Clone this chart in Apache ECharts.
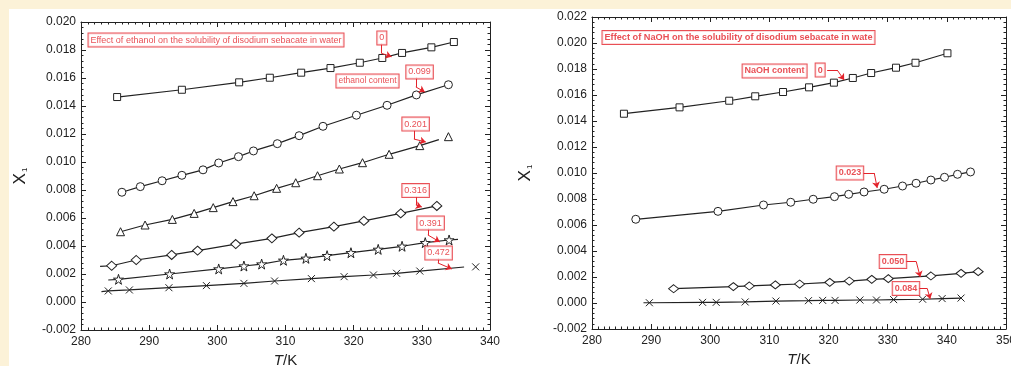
<!DOCTYPE html>
<html><head><meta charset="utf-8">
<script src="https://cdn.jsdelivr.net/npm/echarts@6/dist/echarts.min.js"></script>
<style>html,body{margin:0;padding:0;background:#FCF2D8;}#c{width:1011px;height:366px;}</style>
</head><body><div id="c"></div>
<script>
// ---------- Left panel: ethanol ----------
const ethT_0 = [285.3, 294.8, 303.2, 307.7, 312.3, 316.6, 320.9, 324.2, 327.1, 331.4, 334.7];
const ethX_0 = [0.01464, 0.01516, 0.01569, 0.01602, 0.01638, 0.01671, 0.01709, 0.01743, 0.01779, 0.01819, 0.01857];
const ethT_099 = [286.0, 288.7, 291.9, 294.8, 297.9, 300.2, 303.1, 305.3, 308.8, 312.0, 315.5, 320.4, 324.9, 329.2, 333.9];
const ethX_099 = [0.00784, 0.00824, 0.00866, 0.00905, 0.00944, 0.00993, 0.01038, 0.01079, 0.01131, 0.01188, 0.01255, 0.01334, 0.01405, 0.01479, 0.01552];
const ethT_201 = [285.8, 289.4, 293.4, 296.6, 299.4, 302.3, 305.4, 308.7, 311.5, 314.7, 317.9, 321.3, 325.2, 329.7, 333.9];
const ethX_201 = [0.00502, 0.0055, 0.0059, 0.00633, 0.00674, 0.00717, 0.00759, 0.00812, 0.00852, 0.00902, 0.0095, 0.00995, 0.01055, 0.01117, 0.01181];
const ethT_316 = [284.5, 288.1, 293.3, 297.1, 302.7, 308.0, 312.0, 317.1, 321.5, 326.9, 332.2];
const ethX_316 = [0.00259, 0.003, 0.00336, 0.00367, 0.00414, 0.00455, 0.00495, 0.00538, 0.00579, 0.00633, 0.00686];
const ethT_391 = [285.5, 293.0, 300.2, 303.9, 306.5, 309.7, 313.0, 316.1, 319.6, 323.6, 327.1, 330.5, 334.0];
const ethX_391 = [0.00162, 0.002, 0.00236, 0.00257, 0.00271, 0.00298, 0.00312, 0.00331, 0.00352, 0.00376, 0.00398, 0.00424, 0.00443];
const ethT_472 = [284.0, 287.1, 292.9, 298.4, 303.9, 308.4, 313.8, 318.6, 322.9, 326.3, 329.7, 337.9];
const ethX_472 = [0.00079, 0.00086, 0.00102, 0.00117, 0.00133, 0.0015, 0.00167, 0.00181, 0.00193, 0.00205, 0.00221, 0.00251];
// fitted-line extents [T, X] (null = none); number of points the fit passes through
const ethFitStart = [null, null, null, [282.8, 0.00255], [284.0, 0.00157], [283.0, 0.00074]];
const ethFitEnd   = [null, null, [332.5, 0.0116], null, [335.3, 0.00448], [336.2, 0.0025]];
const ethFitCount = [11, 15, 14, 11, 13, 11];
// annotations
const ethLabels = ['Effect of ethanol on the solubility of disodium sebacate in water', '0', 'ethanol content', '0.099', '0.201', '0.316', '0.391', '0.472'];
const ethLabelT = [281.03, 323.4, 317.4, 327.65, 327.07, 327.07, 329.27, 330.44];
const ethLabelX = [0.01871, 0.01886, 0.01579, 0.01643, 0.01271, 0.00796, 0.00564, 0.0035];
const ethArrows = [
  [[324.09, 0.01848], [324.09, 0.01776], [325.56, 0.01752]],
  [[329.12, 0.01607], [329.12, 0.01536], [330.44, 0.0150]],
  [[328.83, 0.01229], [328.83, 0.01164], [330.59, 0.01143]],
  [[329.12, 0.00757], [329.12, 0.00693], [330.0, 0.00679]],
  [[330.88, 0.00529], [330.88, 0.00479], [332.64, 0.00429]],
  [[332.35, 0.00314], [332.35, 0.00279], [334.4, 0.00236]]
];

// ---------- Right panel: NaOH ----------
const naT_0 = [285.4, 294.8, 303.2, 307.6, 312.3, 316.7, 320.9, 324.1, 327.2, 331.4, 334.7, 340.1];
const naX_0 = [0.01456, 0.01505, 0.01556, 0.0159, 0.01623, 0.01659, 0.01695, 0.01731, 0.01769, 0.0181, 0.01848, 0.01921];
const naT_023 = [287.4, 301.3, 309.0, 313.6, 317.4, 321.0, 323.4, 326.0, 329.4, 332.5, 334.8, 337.3, 339.6, 341.8, 344.0];
const naX_023 = [0.00644, 0.00705, 0.00754, 0.00775, 0.00798, 0.00818, 0.00836, 0.00854, 0.00875, 0.009, 0.00921, 0.00946, 0.00967, 0.0099, 0.01008];
const naT_050 = [293.8, 303.9, 306.6, 311.0, 315.1, 320.2, 323.5, 327.3, 330.1, 337.3, 342.4, 345.3];
const naX_050 = [0.0011, 0.00126, 0.00131, 0.00139, 0.00146, 0.00159, 0.00169, 0.00182, 0.00187, 0.00208, 0.00228, 0.00241];
const naT_084 = [289.7, 298.7, 301.0, 305.9, 311.1, 316.6, 319.0, 321.1, 325.3, 328.1, 331.0, 335.9, 339.2, 342.4];
const naX_084 = [0.00002, 0.00005, 0.00005, 0.00008, 0.00015, 0.00018, 0.0002, 0.0002, 0.00023, 0.00023, 0.00026, 0.00029, 0.00034, 0.00038];
const naFitStart = [null, null, null, [288.7, 0.00002]];
const naLabels = ['Effect of NaOH on the solubility of disodium sebacate in wate', 'NaOH content', '0', '0.023', '0.050', '0.084'];
const naLabelT = [281.69, 305.38, 317.73, 321.29, 328.56, 330.76];
const naLabelX = [0.02042, 0.01785, 0.01792, 0.01, 0.00319, 0.00112];
const naArrows = [
  [[319.76, 0.01792], [321.46, 0.01792], [322.64, 0.01715]],
  [[325.85, 0.01], [327.72, 0.01], [328.22, 0.00885]],
  [[332.96, 0.00319], [334.82, 0.00319], [335.5, 0.002]],
  [[335.16, 0.00112], [336.68, 0.00112], [337.19, 0.00031]]
];

// ---------- build ----------
const INK = '#222';
const RED = '#E3232B';
const FONT = "'Liberation Sans', Arial, sans-serif";
const STAR = 'path://M50,0L61,35L98,35L68,57L79,91L50,70L21,91L32,57L2,35L39,35Z';
const CROSS = 'path://M0,0L10,10M10,0L0,10';

function zip(a, b) { return a.map((v, i) => [v, b[i]]); }

function xAx(gi, min, max, pos) {
  const bottom = pos === 'bottom';
  return {
    type: 'value', gridIndex: gi, position: pos, min: min, max: max, interval: 10,
    axisLine: { show: true, onZero: false, lineStyle: { color: INK, width: 1 } },
    axisTick: { show: true, inside: true, length: 5, lineStyle: { color: INK } },
    minorTick: { show: true, splitNumber: 10, length: 2.5, lineStyle: { color: INK } },
    splitLine: { show: false },
    axisLabel: { show: bottom, color: INK, fontSize: 12, fontFamily: FONT, margin: 6, hideOverlap: false },
    name: bottom ? '{i|T}/K' : '', nameLocation: 'middle', nameGap: 22,
    nameTextStyle: { color: INK, fontSize: 15, fontFamily: FONT, rich: { i: { fontStyle: 'italic', fontSize: 15, fontFamily: FONT, color: INK } } }
  };
}
function yAx(gi, min, max, pos, gap) {
  const left = pos === 'left';
  return {
    type: 'value', gridIndex: gi, position: pos, min: min, max: max, interval: 0.002,
    axisLine: { show: true, onZero: false, lineStyle: { color: INK, width: 1 } },
    axisTick: { show: true, inside: true, length: 5, lineStyle: { color: INK } },
    minorTick: { show: true, splitNumber: 5, length: 2.5, lineStyle: { color: INK } },
    splitLine: { show: false },
    axisLabel: { show: left, color: INK, fontSize: 12, fontFamily: FONT, margin: 5,
      formatter: v => v.toFixed(3) },
    name: left ? '{x|X}{s|1}' : '', nameLocation: 'middle', nameGap: gap, nameRotate: 90,
    nameTextStyle: { color: INK, fontFamily: FONT,
      rich: { x: { fontSize: 17, fontFamily: FONT, color: INK, lineHeight: 20, verticalAlign: 'bottom' },
              s: { fontSize: 8, fontFamily: FONT, color: INK, lineHeight: 20, verticalAlign: 'bottom', padding: [0, 0, 0, 1] } } }
  };
}

const series = [];
function addSet(gi, T, X, symbol, size, start, end, count) {
  let fit = zip(T, X).slice(0, count);
  if (start) fit = [start].concat(fit);
  if (end) fit = fit.concat([end]);
  series.push({ type: 'line', xAxisIndex: gi * 2, yAxisIndex: gi * 2, data: fit, showSymbol: false, symbol: 'none',
    lineStyle: { color: INK, width: 1.2 }, silent: true, animation: false, z: 2 });
  series.push({ type: 'scatter', xAxisIndex: gi * 2, yAxisIndex: gi * 2, data: zip(T, X), symbol: symbol, symbolSize: size,
    itemStyle: { color: '#fff', borderColor: INK, borderWidth: 1, opacity: 1 }, silent: true, animation: false, z: 3 });
}
const ethSets = [[ethT_0, ethX_0, 'rect', 7], [ethT_099, ethX_099, 'circle', 8], [ethT_201, ethX_201, 'triangle', 8],
  [ethT_316, ethX_316, 'diamond', [10, 9]], [ethT_391, ethX_391, STAR, 10], [ethT_472, ethX_472, CROSS, 7]];
ethSets.forEach((s, i) => addSet(0, s[0], s[1], s[2], s[3], ethFitStart[i], ethFitEnd[i], ethFitCount[i]));
const naSets = [[naT_0, naX_0, 'rect', 7], [naT_023, naX_023, 'circle', 8], [naT_050, naX_050, 'diamond', [10, 8]], [naT_084, naX_084, CROSS, 7]];
naSets.forEach((s, i) => addSet(1, s[0], s[1], s[2], s[3], naFitStart[i], null, s[0].length));

function arrowLines(arrows) {
  const out = [];
  arrows.forEach(a => {
    out.push([{ coord: a[0], symbol: 'none' }, { coord: a[1], symbol: 'none' }]);
    out.push([{ coord: a[1], symbol: 'none' }, { coord: a[2], symbol: 'arrow', symbolSize: 6 }]);
  });
  return out;
}
function labelSeries(gi, texts, Ts, Xs, arrows, bold, sizes) {
  series.push({
    type: 'scatter', xAxisIndex: gi * 2, yAxisIndex: gi * 2, symbolSize: 1,
    itemStyle: { color: 'rgba(0,0,0,0)', borderWidth: 0 },
    silent: true, animation: false, z: 5,
    data: texts.map((t, i) => ({ name: t, value: [Ts[i], Xs[i]],
      label: { fontSize: sizes[i] } })),
    label: { show: true, position: 'right', distance: 0, formatter: '{b}', color: RED, fontFamily: FONT,
      fontWeight: bold ? 'bold' : 'normal', backgroundColor: '#fff', borderColor: RED, borderWidth: 1,
      padding: [2, 2, 1, 2], lineHeight: 10 },
    labelLayout: { hideOverlap: false },
    markLine: { silent: true, animation: false, symbol: ['none', 'arrow'], symbolSize: 6,
      lineStyle: { color: RED, width: 1, type: 'solid' }, label: { show: false }, emphasis: { disabled: true },
      data: arrowLines(arrows) }
  });
}
labelSeries(0, ethLabels, ethLabelT, ethLabelX, ethArrows, false, [9, 9, 8.5, 9, 9, 9, 9, 9]);
labelSeries(1, naLabels, naLabelT, naLabelX, naArrows, true, [9.2, 9, 9, 9, 9, 9]);

const option = {
  backgroundColor: '#FCF2D8',
  animation: false,
  graphic: [{ type: 'rect', left: 9, top: 9, shape: { width: 1002, height: 357 }, style: { fill: '#fff' }, z: -10, silent: true }],
  grid: [
    { left: 81, top: 22, width: 409, height: 308, outerBoundsMode: 'none', containLabel: false },
    { left: 592, top: 17, width: 414, height: 312, outerBoundsMode: 'none', containLabel: false }
  ],
  xAxis: [xAx(0, 280, 340, 'bottom'), xAx(0, 280, 340, 'top'), xAx(1, 280, 350, 'bottom'), xAx(1, 280, 350, 'top')],
  yAxis: [yAx(0, -0.002, 0.020, 'left', 52), yAx(0, -0.002, 0.020, 'right', 0), yAx(1, -0.002, 0.022, 'left', 58), yAx(1, -0.002, 0.022, 'right', 0)],
  series: series
};
const chart = echarts.init(document.getElementById('c'), null, { renderer: 'canvas' });
chart.setOption(option);
</script>
</body></html>
